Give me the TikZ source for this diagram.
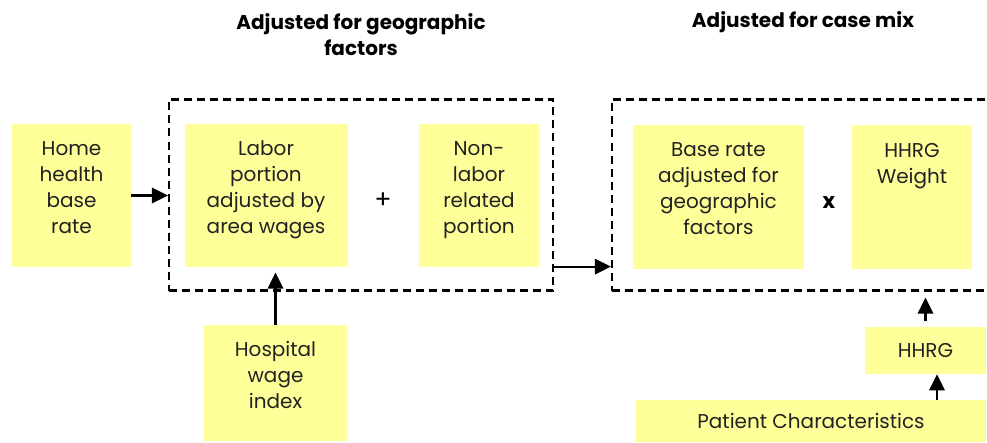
\documentclass[tikz,border=0pt]{standalone}
\usepackage{fontspec}
\setmainfont{Poppins}
\usepackage{tikz}
\usetikzlibrary{positioning, arrows.meta, calc}
\definecolor{notepad}{RGB}{255, 255, 153}
\definecolor{inkgray}{RGB}{34, 34, 34}

\tikzset{
  notebox/.style={fill=notepad, text=inkgray, align=center, inner sep=0pt,
    font=\fontsize{15}{19.5}\selectfont},
  lifted/.style={text depth=12pt},
  groupbox/.style={draw, line width=1.6pt, dash pattern=on 6pt off 3.75pt, inner sep=0pt},
  flow/.style={-{Triangle[length=12pt, width=11.5pt]}, line width=1.6pt},
  heading/.style={font=\fontsize{15}{19.5}\selectfont\bfseries, align=center}
}

\begin{document}
\begin{tikzpicture}[x=0.75pt, y=-0.75pt]
  \useasboundingbox (0,0) rectangle (987,442);
  % headings
  \node[heading] (geotitle) at (361,35) {Adjusted for geographic\\factors};
  \node[heading] (mixtitle) at (803,22) {Adjusted for case mix};
  % dashed groups
  \node[groupbox, minimum width=384*0.75pt, minimum height=191*0.75pt] (geobox) at (361,195) {};
  \node[groupbox, minimum width=390*0.75pt, minimum height=191*0.75pt] (mixbox) at (807,195) {};
  % boxes
  \node[notebox, lifted, minimum width=119*0.75pt, minimum height=143*0.75pt] (base) at (71.5,195.5) {Home\\health\\base\\rate};
  \node[notebox, lifted, minimum width=163*0.75pt, minimum height=143*0.75pt] (labor) at (266,195.5) {Labor\\portion\\adjusted by\\area wages};
  \node (plus) at (383,201) {\fontsize{19}{20}\selectfont +};
  \node[notebox, lifted, minimum width=120*0.75pt, minimum height=143*0.75pt] (nonlabor) at (479,195.5) {Non-\\labor\\related\\portion};
  \node[notebox, lifted, minimum width=143*0.75pt, minimum height=116*0.75pt] (wage) at (275.5,383) {Hospital\\wage\\index};
  \node[notebox, lifted, minimum width=171*0.75pt, minimum height=144*0.75pt] (adjrate) at (718.5,197) {Base rate\\adjusted for\\geographic\\factors};
  \node (times) at (829,203) {\fontsize{16}{18}\selectfont\bfseries x};
  \node[notebox, lifted, minimum width=120*0.75pt, minimum height=144*0.75pt] (weight) at (912,197) {HHRG\\Weight\\~\\~};
  \node[notebox, minimum width=121*0.75pt, minimum height=47*0.75pt] (hhrg) at (925.5,350.5) {HHRG};
  \node[notebox, minimum width=350*0.75pt, minimum height=42*0.75pt] (patient) at (811,421) {Patient Characteristics};
  % arrows
  \draw[flow] (base.east) -- (base.east -| geobox.west);
  \draw[flow] ([yshift=18.75pt]geobox.south east) -- ([yshift=18.75pt]mixbox.south west);
  \draw[flow, shorten >=4pt] (wage.north) -- (wage.north |- labor.south);
  \draw[flow, shorten <=4pt, shorten >=4.5pt] (hhrg.north) -- (hhrg.north |- mixbox.south);
  \draw[flow] ([xshift=8.6pt]hhrg.south |- patient.north) -- ([xshift=8.6pt]hhrg.south);
\end{tikzpicture}
\end{document}
